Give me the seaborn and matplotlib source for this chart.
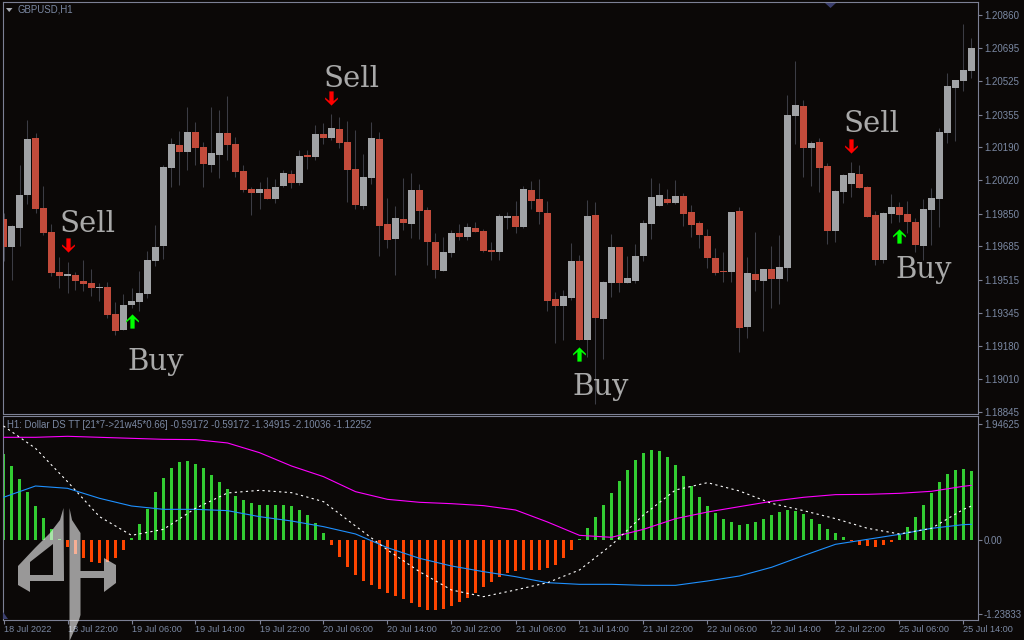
# GBPUSD H1 candles + Dollar DS TT indicator (MT4 style screenshot)

# %%
# Imports
import numpy as np
import pandas as pd
import seaborn as sns
import matplotlib.pyplot as plt
from matplotlib.path import Path
from matplotlib.patches import PathPatch, Polygon

# %%
# Data - prices in points (1e-5)
opens = [119824, 119682, 119778, 119946, 120236, 119880, 119758, 119555, 119534, 119539,
         119509, 119499, 119473, 119478, 119341, 119260, 119387, 119402, 119443, 119611,
         119687, 120084, 120201, 120165, 120267, 120190, 120099, 120150, 120262, 120206,
         120068, 119977, 119956, 119977, 119926, 119992, 120053, 120007, 120150, 120140,
         120256, 120236, 120282, 120216, 120078, 119890, 120033, 120231, 119799, 119722,
         119824, 119799, 119972, 119870, 119707, 119560, 119651, 119753, 119733, 119778,
         119763, 119666, 119656, 119829, 119839, 119783, 119972, 119926, 119855, 119417,
         119382, 119422, 119611, 119209, 119845, 119316, 119499, 119682, 119499, 119509,
         119636, 119799, 119890, 119926, 119906, 119941, 119860, 119804, 119738, 119626,
         119560, 119555, 119865, 119275, 119544, 119509, 119570, 119519, 119575, 120348,
         120399, 120185, 120216, 120094, 119763, 119961, 120002, 120053, 119987, 119845,
         119616, 119850, 119885, 119850, 119809, 119687, 119870, 119926, 120262, 120490,
         120526, 120577]
closes = [119682, 119789, 119946, 120231, 119875, 119753, 119550, 119534, 119544, 119509,
          119494, 119473, 119478, 119336, 119255, 119387, 119407, 119448, 119616, 119682,
          120089, 120206, 120165, 120267, 120185, 120104, 120160, 120262, 120201, 120063,
          119972, 119956, 119977, 119926, 119987, 120058, 120007, 120145, 120140, 120256,
          120236, 120287, 120211, 120073, 119895, 120038, 120236, 119789, 119717, 119829,
          119804, 119972, 119865, 119707, 119565, 119656, 119753, 119733, 119783, 119758,
          119661, 119656, 119839, 119839, 119783, 119977, 119916, 119860, 119407, 119382,
          119433, 119611, 119209, 119839, 119321, 119504, 119682, 119499, 119524, 119636,
          119804, 119936, 119946, 119906, 119941, 119850, 119794, 119743, 119626, 119550,
          119555, 119860, 119270, 119550, 119514, 119570, 119519, 119580, 120353, 120404,
          120185, 120211, 120084, 119763, 119967, 120048, 120058, 119982, 119834, 119616,
          119855, 119885, 119845, 119809, 119692, 119875, 119931, 120267, 120501, 120531,
          120582, 120694]
highs = [119855, 119794, 120099, 120328, 120262, 119992, 119799, 119631, 119605, 119555,
         119616, 119570, 119499, 119504, 119402, 119443, 119473, 119560, 119661, 119794,
         120099, 120236, 120272, 120394, 120318, 120216, 120394, 120379, 120450, 120241,
         120099, 119987, 120012, 120038, 120028, 120073, 120073, 120175, 120175, 120302,
         120312, 120358, 120343, 120323, 120277, 120155, 120318, 120267, 119931, 119890,
         120033, 120058, 120002, 119885, 119753, 119733, 119768, 119799, 119804, 119809,
         119773, 119707, 119850, 119860, 119916, 119992, 120017, 120028, 119916, 119453,
         119463, 119702, 119641, 119921, 119911, 119509, 119748, 119682, 119636, 119697,
         119819, 120033, 120007, 119977, 120022, 119956, 119895, 119814, 119773, 119677,
         119656, 119860, 119885, 119631, 119758, 119570, 119687, 119743, 120455, 120628,
         120429, 120221, 120236, 120109, 119972, 120053, 120114, 120099, 119992, 119865,
         119860, 119951, 119911, 119916, 119829, 119926, 119982, 120287, 120567, 120531,
         120816, 120745]
lows = [119611, 119514, 119687, 119900, 119855, 119743, 119534, 119473, 119448, 119463,
        119458, 119433, 119407, 119321, 119234, 119260, 119372, 119356, 119422, 119585,
        119621, 119987, 119997, 120073, 120099, 119987, 120063, 120033, 120124, 120038,
        119961, 119845, 119875, 119926, 119906, 119987, 119982, 119997, 120078, 120124,
        120206, 120226, 120185, 119911, 119875, 119875, 120002, 119636, 119677, 119539,
        119768, 119728, 119722, 119590, 119524, 119560, 119631, 119717, 119717, 119758,
        119656, 119616, 119616, 119773, 119753, 119778, 119875, 119799, 119356, 119193,
        119209, 119412, 119209, 119122, 118883, 119112, 119427, 119453, 119499, 119499,
        119611, 119722, 119890, 119900, 119900, 119789, 119733, 119677, 119575, 119539,
        119504, 119504, 119148, 119219, 119458, 119255, 119372, 119392, 119509, 120206,
        120038, 119992, 119961, 119697, 119707, 119906, 119936, 119982, 119834, 119590,
        119600, 119804, 119809, 119753, 119656, 119616, 119692, 119783, 120211, 120221,
        120475, 120541]

hist_values = [1.445, 1.243, 1.025, 0.806, 0.571, 0.370, 0.185, 0.017, -0.118, -0.235,
               -0.302, -0.370, -0.386, -0.370, -0.302, -0.168, 0.034, 0.269, 0.521, 0.806,
               1.042, 1.210, 1.310, 1.327, 1.277, 1.210, 1.092, 0.974, 0.857, 0.739,
               0.672, 0.622, 0.588, 0.588, 0.588, 0.588, 0.571, 0.504, 0.420, 0.286,
               0.118, -0.084, -0.286, -0.454, -0.588, -0.689, -0.756, -0.823, -0.890, -0.941,
               -0.991, -1.058, -1.126, -1.176, -1.176, -1.159, -1.109, -1.042, -0.974, -0.890,
               -0.790, -0.706, -0.622, -0.554, -0.521, -0.504, -0.504, -0.504, -0.470, -0.420,
               -0.302, -0.168, 0.017, 0.202, 0.386, 0.588, 0.790, 0.991, 1.176, 1.344,
               1.462, 1.512, 1.495, 1.394, 1.260, 1.075, 0.907, 0.722, 0.571, 0.454,
               0.353, 0.302, 0.252, 0.269, 0.302, 0.353, 0.420, 0.470, 0.504, 0.487,
               0.437, 0.353, 0.269, 0.185, 0.118, 0.050, -0.017, -0.084, -0.101, -0.118,
               -0.084, -0.034, 0.084, 0.218, 0.386, 0.588, 0.790, 0.974, 1.109, 1.176,
               1.193, 1.159]

# indicator lines, read every 4th bar
line_bars = [0, 4, 8, 12, 16, 20, 24, 28, 32, 36, 40, 44, 48, 52, 56, 60, 64, 68, 72, 76,
             80, 84, 88, 92, 96, 100, 104, 108, 112, 116, 120, 121]
magenta_line = [1.725, 1.725, 1.742, 1.725, 1.708, 1.691, 1.686, 1.630, 1.467, 1.243, 1.064,
                0.812, 0.683, 0.633, 0.610, 0.577, 0.504, 0.302, 0.078, 0.045, 0.179, 0.358,
                0.470, 0.560, 0.650, 0.717, 0.762, 0.767, 0.784, 0.818, 0.902, 0.918]
blue_line = [0.717, 0.907, 0.868, 0.700, 0.571, 0.515, 0.515, 0.493, 0.392, 0.319, 0.224,
             0.101, -0.129, -0.308, -0.437, -0.532, -0.616, -0.717, -0.745, -0.745, -0.762, -0.762,
             -0.689, -0.605, -0.459, -0.263, -0.073, 0.011, 0.095, 0.196, 0.258, 0.263]
white_line = [1.915, 1.540, 0.980, 0.392, 0.078, 0.179, 0.532, 0.790, 0.834, 0.795, 0.644,
              0.235, -0.168, -0.532, -0.840, -0.952, -0.840, -0.717, -0.504, -0.084, 0.420, 0.840,
              0.963, 0.823, 0.616, 0.493, 0.358, 0.196, 0.101, 0.196, 0.515, 0.571]

price_ticks = [1.20860, 1.20695, 1.20525, 1.20355, 1.20190, 1.20020, 1.19850,
               1.19685, 1.19515, 1.19345, 1.19180, 1.19010, 1.18845]
ind_ticks = [1.94625, 0.00, -1.23833]
ind_tick_labels = ['1.94625', '0.00', '-1.23833']
time_labels = ['18 Jul 2022', '18 Jul 22:00', '19 Jul 06:00', '19 Jul 14:00', '19 Jul 22:00',
               '20 Jul 06:00', '20 Jul 14:00', '20 Jul 22:00', '21 Jul 06:00', '21 Jul 14:00',
               '21 Jul 22:00', '22 Jul 06:00', '22 Jul 14:00', '22 Jul 22:00', '25 Jul 06:00',
               '25 Jul 14:00']

sell_bars = [8, 41, 106]
sell_prices = [1.19692, 1.20440, 1.20195]
buy_bars = [16, 72, 112]
buy_prices = [1.19305, 1.19138, 1.19738]
sell_text_pos = [(7.06, 1.19760), (40.06, 1.20496), (105.06, 1.20268)]
buy_text_pos = [(15.44, 1.19056), (71.06, 1.18929), (111.44, 1.19524)]

# %%
# Colors
BG = '#0b0807'
FRAME = '#7c8094'
AXIS_TEXT = '#7b89a3'
BULL = '#a0a2a5'
BEAR = '#c24b3b'
WICK = '#3c3c44'

sns.set_theme(style='dark', rc={'axes.facecolor': BG, 'figure.facecolor': BG,
                                'axes.edgecolor': FRAME, 'axes.linewidth': 0.8})
plt.rcParams['font.family'] = ['Liberation Sans', 'DejaVu Sans']

W, H = 1024, 640
fig = plt.figure(figsize=(W / 100, H / 100), dpi=100)
ax1 = fig.add_axes([2.5 / W, 1 - 413.5 / H, 975.8 / W, 411.2 / H])
ax2 = fig.add_axes([2.5 / W, 1 - 619.5 / H, 975.8 / W, 203.5 / H])
xlim = (-0.125, 121.85)

# %%
# Candles
bars = np.arange(len(opens))
o = np.array(opens) / 1e5
c = np.array(closes) / 1e5
h = np.array(highs) / 1e5
l = np.array(lows) / 1e5
up = c >= o

ax1.vlines(bars, l, h, color=WICK, lw=0.75, zorder=1)
ax1.bar(bars, np.maximum(np.abs(c - o), 0.00003), bottom=np.minimum(o, c), width=0.88,
        color=[BULL if u else BEAR for u in up], linewidth=0, zorder=2)

# buy / sell signals
arrow_up = Path([(0, 1), (0.9, 0.1), (0.9, -0.15), (0.3, 0.35), (0.3, -1), (-0.3, -1),
                 (-0.3, 0.35), (-0.9, -0.15), (-0.9, 0.1), (0, 1)], closed=True)
arrow_down = Path(arrow_up.vertices * [1, -1], closed=True)
sns.scatterplot(x=buy_bars, y=buy_prices, marker=arrow_up, s=105, color='#00ff00',
                linewidth=0, ax=ax1, zorder=3)
sns.scatterplot(x=sell_bars, y=sell_prices, marker=arrow_down, s=105, color='#ff0000',
                linewidth=0, ax=ax1, zorder=3)
for (tx, ty), txt in zip(sell_text_pos + buy_text_pos, ['Sell'] * 3 + ['Buy'] * 3):
    ax1.text(tx, ty, txt, family='DejaVu Serif', fontsize=21, color='#a9a9a9', zorder=4)

ax1.set_xlim(xlim)
ax1.set_ylim(1.18835, 1.20926)
ax1.set_xticks([])
ax1.set_yticks(price_ticks)
ax1.set_yticklabels([f'{p:.5f}' for p in price_ticks])
ax1.set_xlabel('')
ax1.set_ylabel('')
ax1.yaxis.tick_right()
ax1.tick_params(axis='y', length=3, width=0.8, color=FRAME, labelcolor=AXIS_TEXT,
                labelsize=7, pad=1, right=True)
ax1.text(15.5 / 975.8, 1 - 7.7 / 411.2, 'GBPUSD,H1', transform=ax1.transAxes, fontsize=6.9,
         color=AXIS_TEXT, va='center')

# %%
# Indicator panel
hist_df = pd.DataFrame({'bar': bars, 'value': hist_values})
hist_df['side'] = np.where(hist_df['value'] >= 0, 'up', 'down')
sns.barplot(data=hist_df, x='bar', y='value', hue='side', native_scale=True,
            palette={'up': '#32cd32', 'down': '#ff4500'}, width=0.42, dodge=False,
            saturation=1, linewidth=0, legend=False, ax=ax2, zorder=2)
sns.lineplot(x=line_bars, y=magenta_line, color='#ff00ff', lw=0.8, ax=ax2, zorder=3)
sns.lineplot(x=line_bars, y=blue_line, color='#1e90ff', lw=0.8, ax=ax2, zorder=3)
sns.lineplot(x=line_bars, y=white_line, color='#ffffff', lw=0.8, ls=(0, (2, 3)), ax=ax2, zorder=3)

ax2.set_xlim(xlim)
ax2.set_ylim(-1.336, 2.083)
ax2.set_xlabel('')
ax2.set_ylabel('')
ax2.set_xticks(bars[::8])
ax2.set_xticklabels(time_labels, ha='left')
ax2.set_yticks(ind_ticks)
ax2.set_yticklabels(ind_tick_labels)
ax2.yaxis.tick_right()
ax2.tick_params(axis='x', length=3, width=0.8, color=FRAME, labelcolor=AXIS_TEXT,
                labelsize=6.6, pad=1, bottom=True)
ax2.tick_params(axis='y', length=3, width=0.8, color=FRAME, labelcolor=AXIS_TEXT,
                labelsize=7, pad=1, right=True)
ax2.text(4.5 / 975.8, 1 - 9 / 203.5,
         'H1: Dollar DS TT [21*7->21w45*0.66] -0.59172 -0.59172 -1.34915 -2.10036 -1.12252',
         transform=ax2.transAxes, fontsize=6.9, color=AXIS_TEXT, va='center')

# %%
# Overlay in screen pixels - logo and the small chart flags
ov = fig.add_axes([0, 0, 1, 1], facecolor='none')
ov.set_xlim(0, W)
ov.set_ylim(H, 0)
ov.axis('off')

logo_left = [(63.5, 508), (64, 581), (30, 581), (30, 592), (18, 585), (18, 566),
             (35, 548), (50, 533), (60, 520), (63.5, 508)]
logo_hole = [(30, 562), (30, 575), (53, 575), (53, 544), (30, 562)]
logo_verts = logo_left + logo_hole
logo_codes = [Path.MOVETO] + [Path.LINETO] * 8 + [Path.CLOSEPOLY] \
    + [Path.MOVETO] + [Path.LINETO] * 3 + [Path.CLOSEPOLY]
ov.add_patch(PathPatch(Path(logo_verts, logo_codes), fc='#f2f2f2', ec='none', alpha=0.62))
ov.add_patch(Polygon([(69.5, 508), (72, 520), (80.5, 533), (80.5, 571), (104, 571), (104, 558),
                      (116, 565), (116, 583), (104, 592), (104, 578), (80.5, 578), (80.5, 615),
                      (79, 620), (70, 640), (69.5, 640)],
                     fc='#f2f2f2', ec='none', alpha=0.62))

ov.add_patch(Polygon([(825, 3), (836, 3), (830.5, 8)], fc='#3b3f6e', ec='none'))
ov.add_patch(Polygon([(3, 612), (3, 619), (8, 619)], fc='#3b3f6e', ec='none'))
ov.add_patch(Polygon([(6, 8), (12.5, 8), (9.2, 12)], fc='#a8acb4', ec='none'))

fig.savefig('out.png', dpi=100, facecolor=BG)
